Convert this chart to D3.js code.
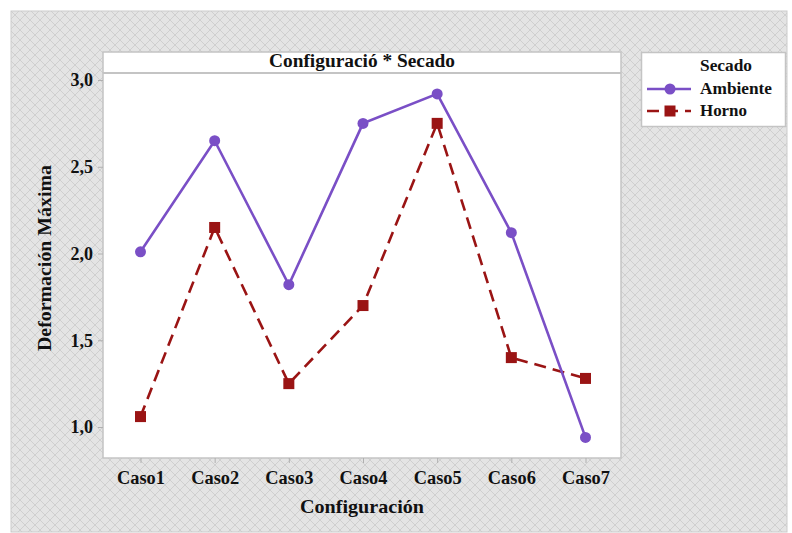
<!DOCTYPE html>
<html>
<head>
<meta charset="utf-8">
<script src="https://cdn.jsdelivr.net/npm/d3@7"></script>
<style>
  html, body { margin: 0; padding: 0; background: #fff; }
  svg text { font-family: "Liberation Serif", "Times New Roman", "DejaVu Serif", serif !important; font-weight: bold; fill: #111; }
</style>
</head>
<body>
<svg id="chart" width="792" height="533"></svg>
<script>
// Interaction plot: Deformación Máxima by Configuración, one line per Secado level
const categories = ["Caso1", "Caso2", "Caso3", "Caso4", "Caso5", "Caso6", "Caso7"];
const ambiente = [2.01, 2.65, 1.82, 2.75, 2.92, 2.12, 0.94];
const horno = [1.06, 2.15, 1.25, 1.70, 2.75, 1.40, 1.28];
const yTicks = [1.0, 1.5, 2.0, 2.5, 3.0];
const seriesNames = ["Ambiente", "Horno"];

(function () {
const svg = d3.select("#chart");

// Hatched panel background
const defs = svg.append("defs");
const pat = defs.append("pattern")
  .attr("id", "hatch").attr("patternUnits", "userSpaceOnUse")
  .attr("width", 10).attr("height", 10);
pat.append("rect").attr("width", 10).attr("height", 10).attr("fill", "#e4e4e4");
pat.append("path").attr("d", "M0,0 L10,10 M10,0 L0,10")
  .attr("stroke", "#cfcfcf").attr("stroke-width", 1).attr("fill", "none");

svg.append("rect").attr("x", 11).attr("y", 11).attr("width", 776).attr("height", 521)
  .attr("fill", "url(#hatch)").attr("stroke", "#cccccc");

// Plot area
const pLeft = 103, pRight = 621, pTop = 52, pHeader = 73, pBottom = 458;

svg.append("rect").attr("x", pLeft).attr("y", pTop).attr("width", pRight - pLeft).attr("height", pBottom - pTop)
  .attr("fill", "#fff").attr("stroke", "#c4c4c4").attr("stroke-width", 1.5);
svg.append("line").attr("x1", pLeft).attr("x2", pRight).attr("y1", pHeader).attr("y2", pHeader)
  .attr("stroke", "#c4c4c4").attr("stroke-width", 2);
svg.append("text").attr("x", (pLeft + pRight) / 2).attr("y", 67).attr("text-anchor", "middle")
  .attr("font-size", 18).attr("textLength", 186).attr("lengthAdjust", "spacingAndGlyphs")
  .text("Configuració * Secado");

const x = d3.scalePoint().domain(categories).range([140.5, 585.5]);
const y = d3.scaleLinear().domain([1.0, 3.0]).range([427, 80]);

// Axes
const xAxis = svg.append("g").attr("transform", `translate(0,${pBottom})`)
  .call(d3.axisBottom(x).tickSize(5).tickPadding(8));
xAxis.select(".domain").remove();
xAxis.selectAll(".tick line").attr("stroke", "#b0b0b0");
xAxis.selectAll(".tick text").attr("font-size", 18).attr("fill", "#111")
  .attr("textLength", 48).attr("lengthAdjust", "spacingAndGlyphs");

const fmt = d => d3.format(".1f")(d).replace(".", ",");
const yAxis = svg.append("g").attr("transform", `translate(${pLeft},0)`)
  .call(d3.axisLeft(y).tickValues(yTicks).tickFormat(fmt).tickSize(5).tickPadding(5));
yAxis.select(".domain").remove();
yAxis.selectAll(".tick line").attr("stroke", "#b0b0b0");
yAxis.selectAll(".tick text").attr("font-size", 18).attr("fill", "#111");

// Axis titles
svg.append("text").attr("x", 362).attr("y", 513).attr("text-anchor", "middle")
  .attr("font-size", 19).attr("textLength", 124).attr("lengthAdjust", "spacingAndGlyphs")
  .text("Configuración");
svg.append("text").attr("transform", "translate(51,258) rotate(-90)").attr("text-anchor", "middle")
  .attr("font-size", 19).attr("textLength", 186).attr("lengthAdjust", "spacingAndGlyphs")
  .text("Deformación Máxima");

// Series
const colors = { Ambiente: "#7a4fc6", Horno: "#9a1414" };
const line = d3.line().x((d, i) => x(categories[i])).y(d => y(d));

svg.append("path").datum(horno).attr("d", line).attr("fill", "none")
  .attr("stroke", colors.Horno).attr("stroke-width", 2.6).attr("stroke-dasharray", "12,7");
svg.append("g").selectAll("rect").data(horno).join("rect")
  .attr("x", (d, i) => x(categories[i]) - 5.5).attr("y", d => y(d) - 5.5)
  .attr("width", 11).attr("height", 11).attr("fill", colors.Horno);

svg.append("path").datum(ambiente).attr("d", line).attr("fill", "none")
  .attr("stroke", colors.Ambiente).attr("stroke-width", 2.6);
svg.append("g").selectAll("circle").data(ambiente).join("circle")
  .attr("cx", (d, i) => x(categories[i])).attr("cy", d => y(d)).attr("r", 5.5)
  .attr("fill", colors.Ambiente);

// Legend
const lg = svg.append("g");
lg.append("rect").attr("x", 641.5).attr("y", 52.5).attr("width", 144).attr("height", 74)
  .attr("fill", "#fff").attr("stroke", "#c4c4c4").attr("stroke-width", 1.5);
lg.append("text").attr("x", 700).attr("y", 71).attr("font-size", 17)
  .attr("textLength", 52).attr("lengthAdjust", "spacingAndGlyphs").text("Secado");
seriesNames.forEach((name, i) => {
  const yy = 89 + i * 22;
  lg.append("line").attr("x1", 647).attr("x2", 691).attr("y1", yy).attr("y2", yy)
    .attr("stroke", colors[name]).attr("stroke-width", 2.6)
    .attr("stroke-dasharray", name === "Horno" ? "12,7" : null);
  if (name === "Horno") {
    lg.append("rect").attr("x", 664.5).attr("y", yy - 5.5).attr("width", 11).attr("height", 11)
      .attr("fill", colors[name]);
  } else {
    lg.append("circle").attr("cx", 670).attr("cy", yy).attr("r", 5.5).attr("fill", colors[name]);
  }
  lg.append("text").attr("x", 700).attr("y", yy + 5).attr("font-size", 17)
    .attr("textLength", name === "Horno" ? 47 : 72).attr("lengthAdjust", "spacingAndGlyphs").text(name);
});
})();
</script>
</body>
</html>
